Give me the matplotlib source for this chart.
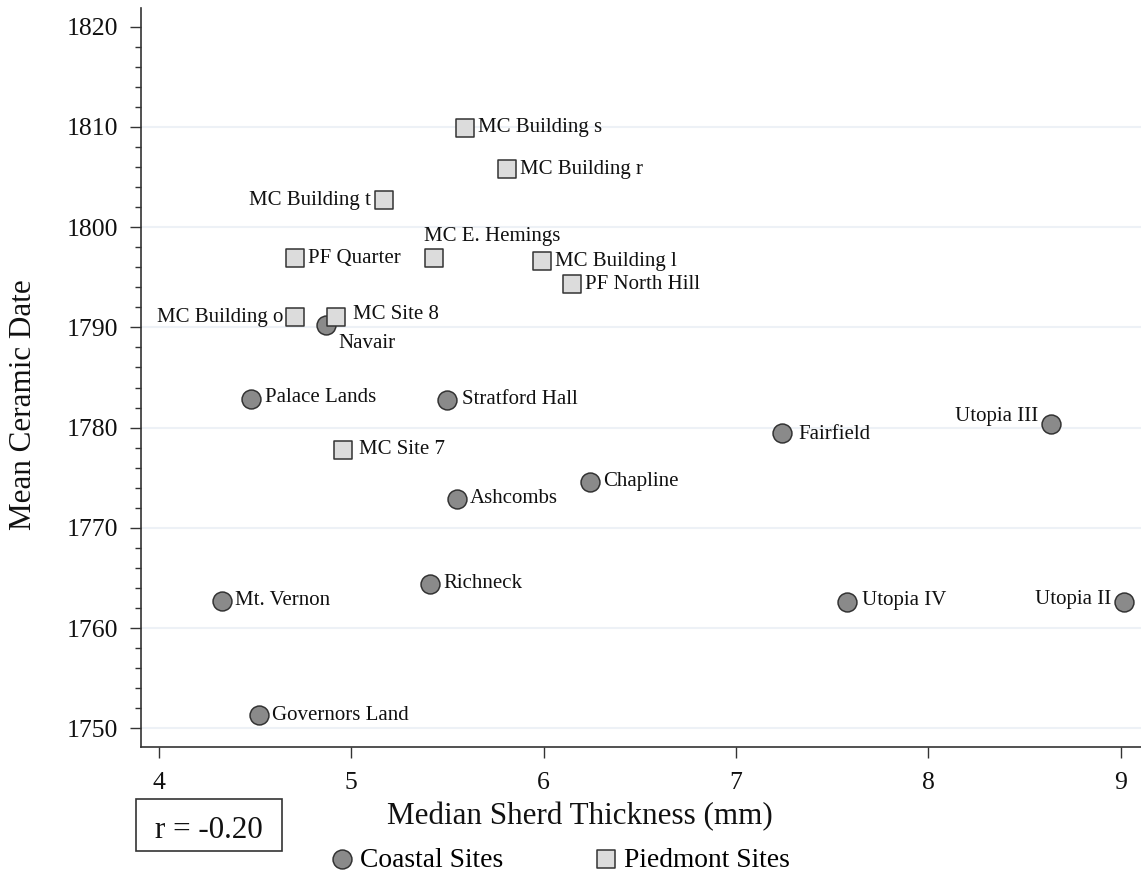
import matplotlib
matplotlib.use("Agg")
import matplotlib.pyplot as plt
from matplotlib.ticker import MultipleLocator
from matplotlib.patches import Rectangle

# ---- data -------------------------------------------------------------
coastal_sites = ["Governors Land", "Mt. Vernon", "Richneck", "Ashcombs", "Chapline",
                 "Palace Lands", "Stratford Hall", "Navair", "Fairfield",
                 "Utopia III", "Utopia IV", "Utopia II"]
coastal_thickness = [4.52, 4.33, 5.41, 5.55, 6.24, 4.48, 5.50, 4.87, 7.24, 8.64, 7.58, 9.02]
coastal_date = [1751.3, 1762.7, 1764.4, 1772.9, 1774.6, 1782.9, 1782.8, 1790.2, 1779.5,
                1780.4, 1762.6, 1762.6]

piedmont_sites = ["MC Building s", "MC Building r", "MC Building t", "PF Quarter",
                  "MC E. Hemings", "MC Building l", "PF North Hill", "MC Building o",
                  "MC Site 8", "MC Site 7"]
piedmont_thickness = [5.59, 5.81, 5.17, 4.71, 5.43, 5.99, 6.15, 4.71, 4.92, 4.96]
piedmont_date = [1809.9, 1805.8, 1802.7, 1796.9, 1796.9, 1796.6, 1794.3, 1791.0, 1791.0, 1777.8]

x_ticks = [4, 5, 6, 7, 8, 9]
y_ticks = [1750, 1760, 1770, 1780, 1790, 1800, 1810, 1820]
r_value = -0.20

# ---- label placement (offset in pixels, horizontal alignment) ---------
default_place = (13, 0, "left")
label_place = {
    "MC Building o": (-12, 0, "right"),
    "MC Building t": (-13, 0, "right"),
    "Utopia III": (-13, 7, "right"),
    "Utopia II": (-13, 2, "right"),
    "MC E. Hemings": (-10, 22, "left"),
    "Navair": (12, -18, "left"),
    "MC Site 8": (17, 3, "left"),
    "MC Site 7": (16, 0, "left"),
    "Fairfield": (16, -2, "left"),
    "Stratford Hall": (15, 0, "left"),
    "Utopia IV": (15, 1, "left"),
    "Palace Lands": (14, 1, "left"),
}

plt.rcParams["font.family"] = ["Liberation Serif", "DejaVu Serif"]
edge = "#333333"

fig = plt.figure(figsize=(11.41, 8.72), dpi=100)
ax = fig.add_axes([140.7 / 1141, 1 - 746.7 / 872, 1 - 140.7 / 1141, (746.7 - 8) / 872])

coastal = ax.scatter(coastal_thickness, coastal_date, s=185, marker="o",
                     facecolor="#8a8a8a", edgecolor=edge, linewidth=1.1, zorder=3,
                     label="Coastal Sites")
piedmont = ax.scatter(piedmont_thickness, piedmont_date, s=165, marker="s",
                      facecolor="#dcdcdc", edgecolor=edge, linewidth=1.1, zorder=3,
                      label="Piedmont Sites")

for names, xs, ys in ((coastal_sites, coastal_thickness, coastal_date),
                      (piedmont_sites, piedmont_thickness, piedmont_date)):
    for name, x, y in zip(names, xs, ys):
        dx, dy, ha = label_place.get(name, default_place)
        ax.annotate(name, (x, y), xytext=(dx, dy), textcoords="offset pixels",
                    ha=ha, va="center", fontsize=15, color="#111111", zorder=4)

ax.set_xlim(3.906, 9.106)
ax.set_ylim(1748.16, 1821.87)
ax.set_xticks(x_ticks)
ax.set_yticks(y_ticks)
ax.yaxis.set_minor_locator(MultipleLocator(2))

ax.grid(axis="y", color="#edf1f6", linewidth=1.5, zorder=0)
ax.set_axisbelow(True)
ax.get_ygridlines()[-1].set_visible(False)

for side in ("top", "right"):
    ax.spines[side].set_visible(False)
for side in ("left", "bottom"):
    ax.spines[side].set_color("#333333")
    ax.spines[side].set_linewidth(1.2)

ax.tick_params(axis="both", which="major", direction="out", length=8, width=1.0,
               color="#333333", labelsize=18.5, labelcolor="#111111")
ax.tick_params(axis="y", which="minor", direction="out", length=4, width=1.0, color="#333333")
ax.tick_params(axis="x", which="major", pad=10)
ax.tick_params(axis="y", which="major", pad=8)

fig.text(23.3 / 1141, 1 - 405 / 872, "Mean Ceramic Date", rotation=90,
         ha="center", va="center", fontsize=22.4, color="#111111")
fig.text(580 / 1141, 1 - 824 / 872, "Median Sherd Thickness (mm)",
         ha="center", va="baseline", fontsize=22.4, color="#111111")

# correlation box
fig.patches.append(Rectangle((135.7 / 1141, 1 - 850.7 / 872), 146 / 1141, 51.4 / 872,
                             transform=fig.transFigure, fill=False,
                             edgecolor="#333333", linewidth=1.2))
fig.text(208.7 / 1141, 1 - 838.3 / 872, f"r = {r_value:.2f}",
         ha="center", va="baseline", fontsize=22.4, color="#111111")

fig.legend(handles=[coastal, piedmont], loc="center", bbox_to_anchor=(561 / 1141, 1 - 860 / 872),
           ncol=2, frameon=False, fontsize=19.8, handlelength=0.7, handletextpad=0.3,
           columnspacing=3.4, borderpad=0.0, markerscale=1.0)

fig.savefig("out.png", dpi=100, facecolor="white")
